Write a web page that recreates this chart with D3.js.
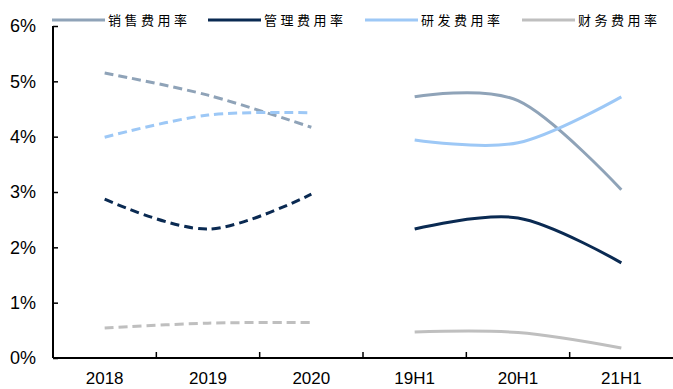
<!DOCTYPE html>
<html>
<head>
<meta charset="utf-8">
<script src="https://cdn.jsdelivr.net/npm/d3@7"></script>
<style>
  body { margin: 0; background: #fff; }
  svg { display: block; }
</style>
</head>
<body>
<svg id="chart"></svg>
<script>
// categories on the x axis
var categories = ["2018", "2019", "2020", "19H1", "20H1", "21H1"];
var yTicks = [0, 1, 2, 3, 4, 5, 6];

// series values (%), null where the series has no point
var seriesNames = ["销售费用率", "管理费用率", "研发费用率", "财务费用率"];
var salesAnnual = [5.15, 4.75, 4.17, null, null, null];
var salesHalf   = [null, null, null, 4.72, 4.65, 3.04];
var mgmtAnnual  = [2.87, 2.33, 2.96, null, null, null];
var mgmtHalf    = [null, null, null, 2.33, 2.53, 1.72];
var rdAnnual    = [3.99, 4.39, 4.43, null, null, null];
var rdHalf      = [null, null, null, 3.94, 3.89, 4.72];
var finAnnual   = [0.54, 0.63, 0.64, null, null, null];
var finHalf     = [null, null, null, 0.47, 0.46, 0.18];

var colors = ["#8FA3B8", "#0A2A52", "#9DC8F6", "#BFBFBF"];

var W = 673, H = 389;
var margin = {top: 26, right: 0, bottom: 31, left: 53};
var width = W - margin.left - margin.right;
var height = H - margin.top - margin.bottom;

var svg = d3.select("#chart").attr("width", W).attr("height", H);
var g = svg.append("g")
    .attr("transform", "translate(" + margin.left + "," + margin.top + ")");

var x = d3.scaleBand().domain(categories).range([0, width]);
var y = d3.scaleLinear().domain([0, 6]).range([height, 0]);

// y axis with inward ticks
var yAxis = g.append("g")
    .call(d3.axisRight(y).tickValues(yTicks).tickSize(5).tickFormat(""));
yAxis.select(".domain").attr("d", "M0,0V" + height).attr("stroke", "#000").attr("stroke-width", 2);
yAxis.selectAll(".tick line").attr("stroke", "#000").attr("stroke-width", 1.5);

g.selectAll("text.ylab")
    .data(yTicks)
    .enter()
    .append("text")
    .attr("class", "ylab")
    .attr("x", -17)
    .attr("y", function(d) { return y(d); })
    .attr("dy", "0.36em")
    .attr("text-anchor", "end")
    .style("font-family", "Liberation Sans, Arial, sans-serif")
    .style("font-size", "18px")
    .text(function(d) { return d + "%"; });

// x axis: ticks sit between categories and point up
var xAxis = g.append("g")
    .attr("transform", "translate(0," + height + ")");
xAxis.append("line")
    .attr("x1", 0).attr("x2", width)
    .attr("stroke", "#000").attr("stroke-width", 2);
xAxis.selectAll("line.sep")
    .data(categories.slice(1))
    .enter()
    .append("line")
    .attr("class", "sep")
    .attr("x1", function(d) { return x(d); })
    .attr("x2", function(d) { return x(d); })
    .attr("y1", 0).attr("y2", -6)
    .attr("stroke", "#000").attr("stroke-width", 1.5);
xAxis.selectAll("text")
    .data(categories)
    .enter()
    .append("text")
    .attr("x", function(d) { return x(d) + x.bandwidth() / 2; })
    .attr("y", 26)
    .attr("text-anchor", "middle")
    .style("font-family", "Liberation Sans, Arial, sans-serif")
    .style("font-size", "17px")
    .text(function(d) { return d; });

// lines
var line = d3.line()
    .defined(function(d) { return d != null; })
    .x(function(d, i) { return x(categories[i]) + x.bandwidth() / 2; })
    .y(function(d) { return y(d); })
    .curve(d3.curveCatmullRom.alpha(0));

var series = [
    {data: salesAnnual, c: 0, dash: true},
    {data: rdAnnual, c: 2, dash: true},
    {data: mgmtAnnual, c: 1, dash: true},
    {data: finAnnual, c: 3, dash: true},
    {data: salesHalf, c: 0, dash: false},
    {data: rdHalf, c: 2, dash: false},
    {data: mgmtHalf, c: 1, dash: false},
    {data: finHalf, c: 3, dash: false}
];

g.selectAll("path.series")
    .data(series)
    .enter()
    .append("path")
    .attr("class", "series")
    .attr("d", function(s) { return line(s.data); })
    .attr("fill", "none")
    .attr("stroke", function(s) { return colors[s.c]; })
    .attr("stroke-width", 3)
    .attr("stroke-dasharray", function(s) { return s.dash ? "9,5" : null; });

// legend
var legendX = [52, 208, 365, 522];
var legend = svg.selectAll("g.legend")
    .data(seriesNames)
    .enter()
    .append("g")
    .attr("class", "legend")
    .attr("transform", function(d, i) { return "translate(" + legendX[i] + ",20)"; });
legend.append("line")
    .attr("x1", 0).attr("x2", 53)
    .attr("stroke", function(d, i) { return colors[i]; })
    .attr("stroke-width", 3);
legend.append("text")
    .attr("x", 56)
    .attr("dy", "0.36em")
    .style("font-family", "Noto Sans CJK SC, sans-serif")
    .style("font-size", "13px")
    .style("letter-spacing", "3.5px")
    .text(function(d) { return d; });
</script>
</body>
</html>
